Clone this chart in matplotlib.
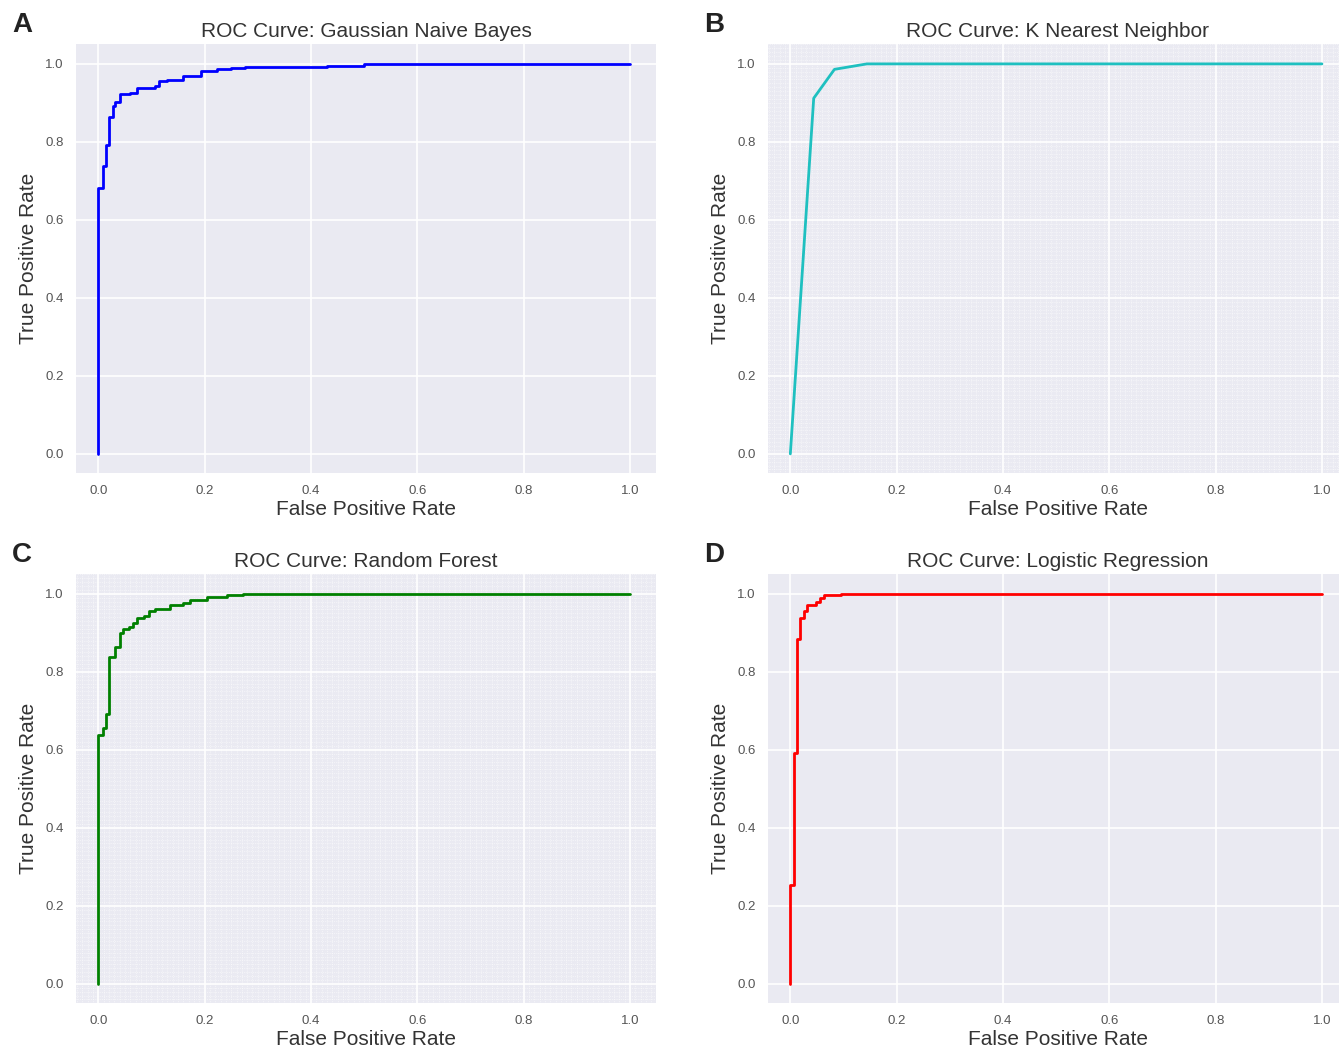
import matplotlib
matplotlib.use("Agg")
import matplotlib.pyplot as plt
import seaborn as sns
from matplotlib.ticker import MultipleLocator

sns.set_style("darkgrid")
plt.rcParams["font.family"] = ["Liberation Sans", "DejaVu Sans"]

# ROC corner points (steps-post: tpr jumps at each fpr)
nb_fpr = [0.0, 0.0, 0.009, 0.014, 0.021, 0.027, 0.032, 0.040, 0.060, 0.073,
          0.107, 0.115, 0.129, 0.160, 0.194, 0.223, 0.249, 0.275, 0.43, 0.50, 1.0]
nb_tpr = [0.0, 0.681, 0.737, 0.792, 0.863, 0.891, 0.902, 0.922, 0.926, 0.938,
          0.944, 0.955, 0.959, 0.969, 0.982, 0.986, 0.989, 0.992, 0.995, 1.0, 1.0]

knn_fpr = [0.0, 0.044, 0.083, 0.144, 1.0]
knn_tpr = [0.0, 0.912, 0.986, 1.0, 1.0]

rf_fpr = [0.0, 0.0, 0.008, 0.014, 0.021, 0.032, 0.040, 0.046, 0.057, 0.065,
          0.073, 0.085, 0.095, 0.107, 0.135, 0.160, 0.173, 0.204, 0.242, 0.273, 1.0]
rf_tpr = [0.0, 0.638, 0.656, 0.692, 0.838, 0.863, 0.899, 0.909, 0.915, 0.926,
          0.938, 0.944, 0.955, 0.961, 0.972, 0.976, 0.985, 0.991, 0.997, 1.0, 1.0]

lr_fpr = [0.0, 0.0, 0.006, 0.013, 0.019, 0.025, 0.031, 0.049, 0.056, 0.063, 0.095, 1.0]
lr_tpr = [0.0, 0.254, 0.592, 0.885, 0.939, 0.957, 0.972, 0.979, 0.989, 0.997, 1.0, 1.0]

panels = [
    ("A", "ROC Curve: Gaussian Naive Bayes", nb_fpr, nb_tpr, "b", "steps-post", False),
    ("B", "ROC Curve: K Nearest Neighbor", knn_fpr, knn_tpr, "#1fc0c0", "default", True),
    ("C", "ROC Curve: Random Forest", rf_fpr, rf_tpr, "g", "steps-post", True),
    ("D", "ROC Curve: Logistic Regression", lr_fpr, lr_tpr, "r", "steps-post", False),
]

W, H = 1339, 1048
fig = plt.figure(figsize=(W / 100, H / 100), dpi=100)

# left/top pixel of each axes
corners = [(76, 44), (768, 44), (76, 574), (768, 574)]
aw, ah = 580, 429

for (letter, title, fpr, tpr, color, ds, minor), (lx, ty) in zip(panels, corners):
    ax = fig.add_axes([lx / W, 1 - (ty + ah) / H, aw / W, ah / H])
    ax.set_facecolor("#EAEAF2")
    ax.plot(fpr, tpr, color=color, lw=2, drawstyle=ds)
    ax.xaxis.set_major_locator(MultipleLocator(0.2))
    ax.yaxis.set_major_locator(MultipleLocator(0.2))
    ax.grid(True, which="major", color="white", lw=1.2)
    if minor:
        # fine dotted mesh seen behind panels B and C
        ax.xaxis.set_minor_locator(MultipleLocator(0.01))
        ax.yaxis.set_minor_locator(MultipleLocator(0.01))
        ax.grid(True, which="minor", color="white", lw=0.5, ls=":", alpha=0.9)
        ax.tick_params(which="minor", length=0)
    ax.tick_params(labelsize=9.5, labelcolor="#555555", pad=9, length=0)
    ax.set_xlim(-0.042, 1.049)
    ax.set_ylim(-0.049, 1.051)
    ax.set_xticks([0, 0.2, 0.4, 0.6, 0.8, 1.0])
    ax.set_yticks([0, 0.2, 0.4, 0.6, 0.8, 1.0])
    ax.set_xticklabels([f"{v:.1f}" for v in ax.get_xticks()])
    ax.set_yticklabels([f"{v:.1f}" for v in ax.get_yticks()])
    ax.set_xlabel("False Positive Rate", fontsize=15, color="#333333", labelpad=2)
    ax.set_ylabel("True Positive Rate", fontsize=15, color="#333333", labelpad=5)
    ax.set_title(title, fontsize=15, color="#333333", pad=5)
    for s in ax.spines.values():
        s.set_visible(False)
    fig.text((lx - 54) / W, 1 - (ty - 19) / H, letter, fontsize=20,
             fontweight="bold", ha="center", va="center", color="#222222")

fig.savefig("out.png", dpi=100, facecolor="white")
